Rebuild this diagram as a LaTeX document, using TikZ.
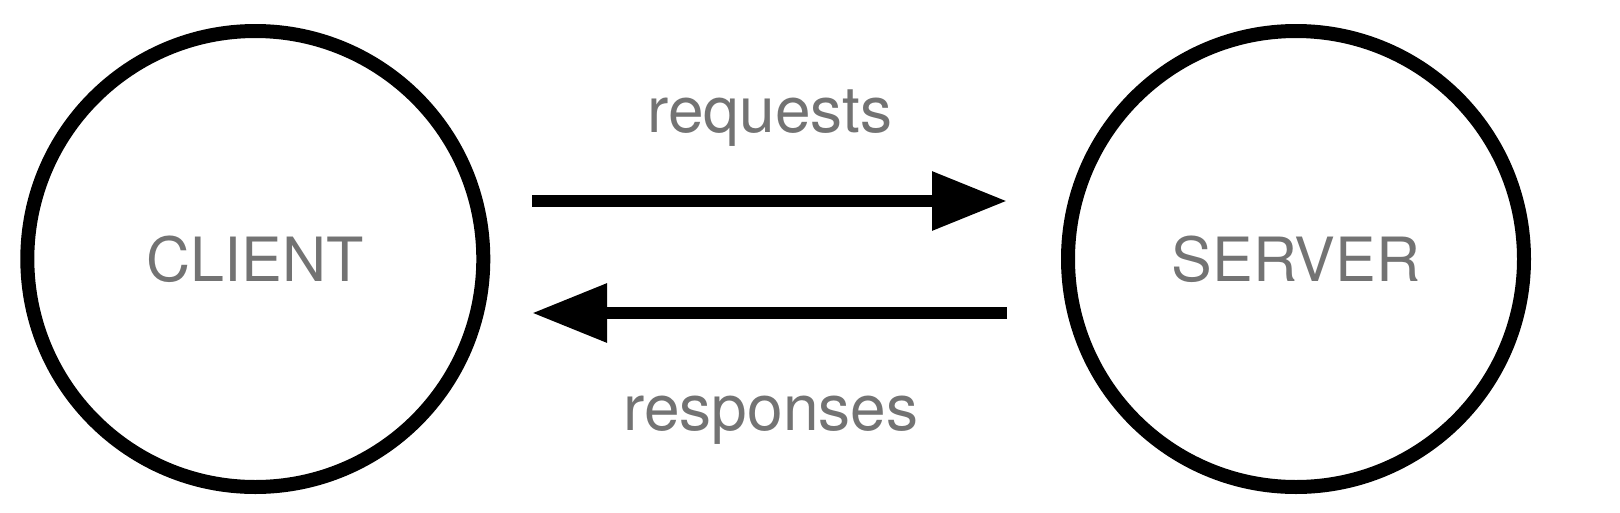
\documentclass[tikz,border=0pt]{standalone}
\usepackage{fontspec}
\setmainfont{TeX Gyre Heros}
\usetikzlibrary{arrows.meta}
\definecolor{txtgray}{HTML}{737373}
\tikzset{
  peer/.style={circle, draw=black, line width=14pt, minimum size=456pt, inner sep=0pt,
    text=txtgray, font=\fontsize{61}{61}\selectfont},
  lbl/.style={anchor=base, inner sep=0pt, text=txtgray, font=\fontsize{64}{64}\selectfont},
  flow/.style={line width=12.5pt, -{Triangle[length=75pt,width=56pt]}}
}
\begin{document}
\begin{tikzpicture}[x=1pt,y=-1pt]
\useasboundingbox (0,0) rectangle (1620,512);
\node[peer] (client) at (255.3,259) {CLIENT};
\node[peer] (server) at (1296,259) {SERVER};
\coordinate (reqS) at (532,201);
\coordinate (reqE) at (1007,201);
\coordinate (resS) at (1007,313);
\coordinate (resE) at (532,313);
\draw[flow] (reqS) -- (reqE);
\draw[flow] (resS) -- (resE);
\node[lbl] (req) at (770,132.7) {requests};
\node[lbl] (res) at (771,430.7) {responses};
\end{tikzpicture}
\end{document}
